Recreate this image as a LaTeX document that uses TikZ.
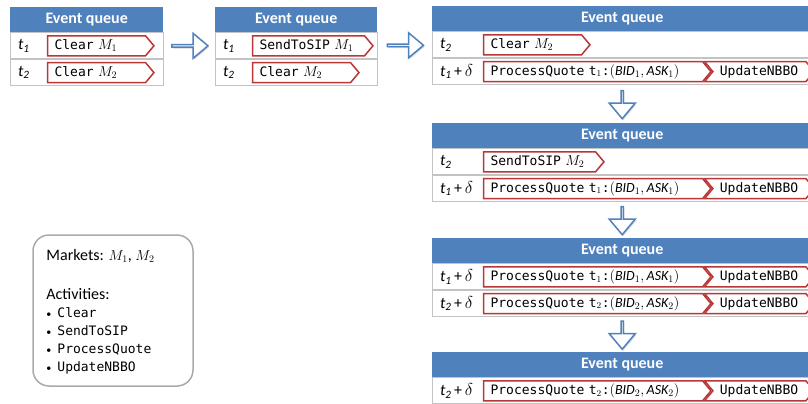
\documentclass[tikz,border=0pt]{standalone}
\usepackage{fontspec}
\setmainfont{Carlito}
\setmonofont{DejaVu Sans Mono}
\usetikzlibrary{positioning, calc, shapes.symbols, shapes.arrows, shadows}

\definecolor{qblue}{RGB}{79,129,189}
\definecolor{qred}{RGB}{185,55,55}
\definecolor{qgrid}{RGB}{195,195,195}
\definecolor{qframe}{RGB}{170,170,170}

\newcommand{\tlab}[1]{\textit{t}\textsubscript{\textit{#1}}}
\newcommand{\tdel}[1]{\tlab{#1}\,+\,$\delta$}
\newcommand{\mk}[1]{{\fontsize{14.5}{15}\selectfont$M_{#1}$}}
\newcommand{\pquote}[1]{ProcessQuote t$_{#1}$:{\fontsize{14}{14}\selectfont$(\mathit{BID}_{#1},\mathit{ASK}_{#1})$}}
\newcommand{\qmono}[1]{{\fontsize{13}{18}\selectfont\ttfamily #1}}
\newcommand{\qdot}{{\fontsize{10}{12}\selectfont\textbullet}\hspace{6pt}}

\begin{document}
\begin{tikzpicture}[x=1pt, y=-1pt,
        qhead/.style={rectangle, fill=qblue, text=white, font=\fontsize{16}{18}\selectfont\bfseries, minimum height=25pt, inner sep=0pt, anchor=north west},
        qrow/.style={rectangle, draw=qgrid, line width=0.8pt, minimum height=26pt, inner sep=0pt},
        tlabel/.style={font=\fontsize{16}{18}\selectfont, anchor=west, inner sep=0pt, xshift=8pt},
        event/.style={signal, signal to=east, signal pointer angle=100, draw=qred, line width=1.5pt, fill=white, text height=10.5pt, text depth=3.5pt, inner xsep=7pt, inner ysep=3pt, align=left, font=\fontsize{13}{15}\selectfont\ttfamily, anchor=west},
        follow/.style={event, signal from=west},
        flow/.style={single arrow, draw=qblue, line width=1.5pt, fill=white, minimum width=25pt, minimum height=36pt, single arrow head extend=6.5pt, single arrow tip angle=80, inner sep=0pt, drop shadow={shadow xshift=1pt, shadow yshift=-1.5pt, opacity=0.3}},
        legbox/.style={rectangle, rounded corners=16pt, draw=qframe, line width=1.5pt, minimum width=160pt, minimum height=151pt}
    ]
    \useasboundingbox (0,0) rectangle (808,404);

    % Queue 1
    \node[qhead, minimum width=153pt] (q1) at (10,7) {Event queue};
    \node[qrow, minimum width=153pt, below=0pt of q1] (q1a) {};
    \node[qrow, minimum width=153pt, below=0pt of q1a] (q1b) {};
    \node[tlabel] (l1a) at (q1a.west) {\tlab{1}};
    \node[tlabel] (l1b) at (q1b.west) {\tlab{2}};
    \node[event, text width=84pt] (e1a) at ($(q1a.west)+(37,0)$) {Clear \mk{1}};
    \node[event, text width=84pt] (e1b) at ($(q1b.west)+(37,0)$) {Clear \mk{2}};

    % Queue 2
    \node[qhead, minimum width=162pt] (q2) at (215,7) {Event queue};
    \node[qrow, minimum width=162pt, below=0pt of q2] (q2a) {};
    \node[qrow, minimum width=162pt, below=0pt of q2a] (q2b) {};
    \node[tlabel] (l2a) at (q2a.west) {\tlab{1}};
    \node[tlabel] (l2b) at (q2b.west) {\tlab{2}};
    \node[event, text width=98pt] (e2a) at ($(q2a.west)+(37,0)$) {SendToSIP \mk{1}};
    \node[event, text width=84pt] (e2b) at ($(q2b.west)+(37,0)$) {Clear \mk{2}};

    % Queue 3
    \node[qhead, minimum width=380pt] (q3) at (432,6) {Event queue};
    \node[qrow, minimum width=380pt, below=0pt of q3] (q3a) {};
    \node[qrow, minimum width=380pt, below=0pt of q3a] (q3b) {};
    \node[tlabel] (l3a) at (q3a.west) {\tlab{2}};
    \node[tlabel] (l3b) at (q3b.west) {\tdel{1}};
    \node[event, text width=84pt] (e3a) at ($(q3a.west)+(51,0)$) {Clear \mk{2}};
    \node[event, text width=205pt] (e3b) at ($(q3b.west)+(51,0)$) {\pquote{1}};
    \node[follow, text width=79pt, right=0pt of e3b] (u3b) {UpdateNBBO};

    % Queue 4
    \node[qhead, minimum width=380pt] (q4) at (432,123) {Event queue};
    \node[qrow, minimum width=380pt, below=0pt of q4] (q4a) {};
    \node[qrow, minimum width=380pt, below=0pt of q4a] (q4b) {};
    \node[tlabel] (l4a) at (q4a.west) {\tlab{2}};
    \node[tlabel] (l4b) at (q4b.west) {\tdel{1}};
    \node[event, text width=98pt] (e4a) at ($(q4a.west)+(51,0)$) {SendToSIP \mk{2}};
    \node[event, text width=205pt] (e4b) at ($(q4b.west)+(51,0)$) {\pquote{1}};
    \node[follow, text width=79pt, right=0pt of e4b] (u4b) {UpdateNBBO};

    % Queue 5
    \node[qhead, minimum width=380pt] (q5) at (432,238) {Event queue};
    \node[qrow, minimum width=380pt, below=0pt of q5] (q5a) {};
    \node[qrow, minimum width=380pt, below=0pt of q5a] (q5b) {};
    \node[tlabel] (l5a) at (q5a.west) {\tdel{1}};
    \node[tlabel] (l5b) at (q5b.west) {\tdel{2}};
    \node[event, text width=205pt] (e5a) at ($(q5a.west)+(51,0)$) {\pquote{1}};
    \node[follow, text width=79pt, right=0pt of e5a] (u5a) {UpdateNBBO};
    \node[event, text width=205pt] (e5b) at ($(q5b.west)+(51,0)$) {\pquote{2}};
    \node[follow, text width=79pt, right=0pt of e5b] (u5b) {UpdateNBBO};

    % Queue 6
    \node[qhead, minimum width=380pt] (q6) at (432,352) {Event queue};
    \node[qrow, minimum width=380pt, below=0pt of q6] (q6a) {};
    \node[tlabel] (l6a) at (q6a.west) {\tdel{2}};
    \node[event, text width=205pt] (e6a) at ($(q6a.west)+(51,0)$) {\pquote{2}};
    \node[follow, text width=79pt, right=0pt of e6a] (u6a) {UpdateNBBO};

    % --- Block arrows between queues ---
    \node[flow] (r1) at ($(q1a.east)!0.5!(q2a.west)$) {};
    \node[flow] (r2) at ($(q2a.east)!0.5!(q3a.west)$) {};
    \node[flow, shape border rotate=270, minimum height=28pt, minimum width=26pt, single arrow head extend=8pt] (d1) at ($(q3b.south)!0.5!(q4.north)$) {};
    \node[flow, shape border rotate=270, minimum height=28pt, minimum width=26pt, single arrow head extend=8pt] (d2) at ($(q4b.south)!0.5!(q5.north)$) {};
    \node[flow, shape border rotate=270, minimum height=28pt, minimum width=26pt, single arrow head extend=8pt] (d3) at ($(q5b.south)!0.5!(q6.north)$) {};

    % --- Legend ---
    \node[legbox] (legend) at (113,310.5) {};
    \node[anchor=north west, align=left, inner sep=0pt, font=\fontsize{16}{18}\selectfont] (legtxt) at ($(legend.north west)+(14,15)$) {Markets: \mk{1}, \mk{2}\\[21pt]
        Activities:\\
        \qdot\qmono{Clear}\\
        \qdot\qmono{SendToSIP}\\
        \qdot\qmono{ProcessQuote}\\
        \qdot\qmono{UpdateNBBO}};

\end{tikzpicture}
\end{document}
